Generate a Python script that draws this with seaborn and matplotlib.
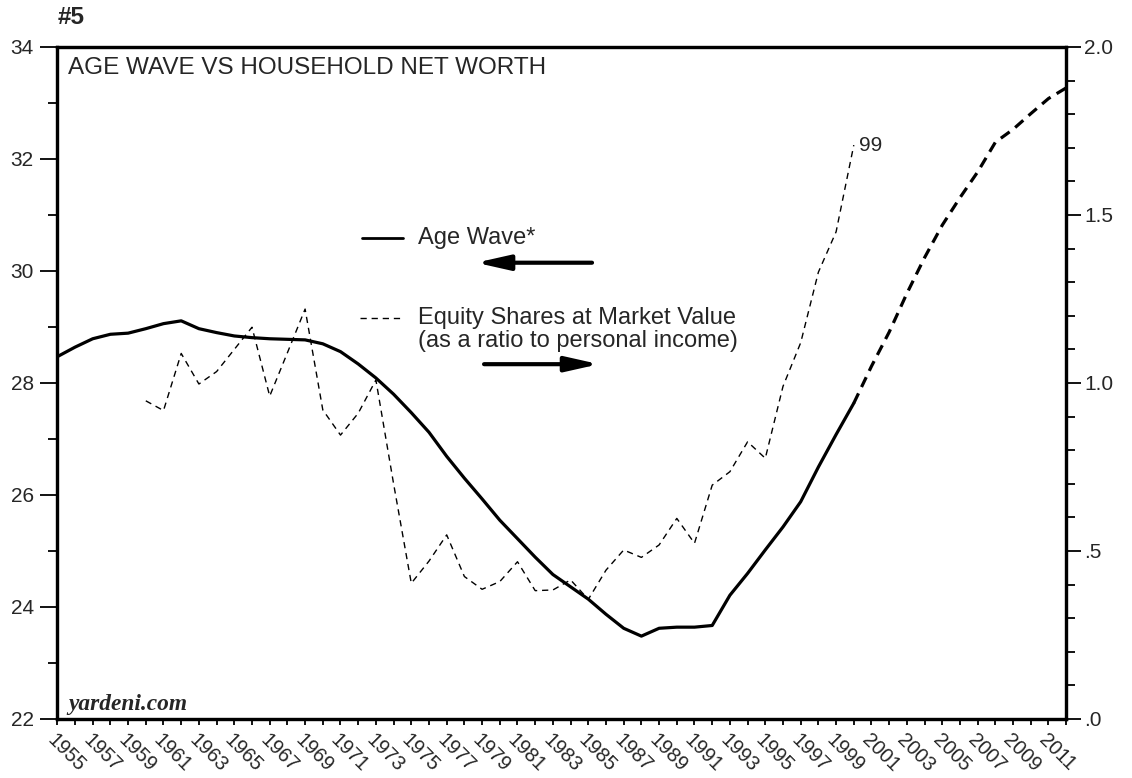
import numpy as np
import matplotlib
matplotlib.use("Agg")
import matplotlib.pyplot as plt
import seaborn as sns
from matplotlib.ticker import MultipleLocator, FixedLocator

# ---------------- data ----------------
age_years = list(range(1955, 2001))
age_wave = [28.47, 28.64, 28.79, 28.87, 28.89, 28.97, 29.06, 29.11, 28.97, 28.90,
            28.84, 28.81, 28.79, 28.78, 28.77, 28.70, 28.56, 28.34, 28.09, 27.80,
            27.47, 27.12, 26.69, 26.30, 25.93, 25.55, 25.22, 24.89, 24.58, 24.36,
            24.14, 23.87, 23.62, 23.48, 23.62, 23.64, 23.64, 23.67, 24.21, 24.60,
            25.02, 25.43, 25.88, 26.50, 27.08, 27.64]

proj_years = list(range(2000, 2013))
age_proj = [27.64, 28.30, 28.91, 29.60, 30.24, 30.82, 31.31, 31.77, 32.30,
            32.53, 32.81, 33.08, 33.27]

# year-end values, 1959..1999
equity_years = list(range(1959, 2000))
equity_ratio = [0.947, 0.918, 1.088, 0.997, 1.034, 1.100, 1.166, 0.961, 1.090, 1.220,
                0.920, 0.845, 0.910, 1.009, 0.700, 0.404, 0.470, 0.548, 0.424, 0.386,
                0.409, 0.468, 0.382, 0.384, 0.414, 0.356, 0.443, 0.503, 0.481, 0.518,
                0.597, 0.523, 0.696, 0.736, 0.825, 0.776, 0.990, 1.120, 1.330, 1.450,
                1.708]

left_ticks = [22, 24, 26, 28, 30, 32, 34]
right_ticks = [0.0, 0.5, 1.0, 1.5, 2.0]
right_labels = [".0", ".5", "1.0", "1.5", "2.0"]
x_label_years = list(range(1955, 2012, 2))

# ---------------- style ----------------
sns.set_theme(style="ticks")
plt.rcParams["font.family"] = ["Liberation Sans", "DejaVu Sans"]

W, H = 1132, 778
fig = plt.figure(figsize=(W / 100, H / 100), dpi=100)
L, R, T, B = 57.3, 1066.2, 47, 719
ax = fig.add_axes([L / W, 1 - B / H, (R - L) / W, (B - T) / H])
ax2 = ax.twinx()

sns.lineplot(x=age_years, y=age_wave, ax=ax, color="black", linewidth=2.3)
sns.lineplot(x=proj_years, y=age_proj, ax=ax, color="black", linewidth=2.3,
             linestyle=(0, (3.4, 2.2)))
sns.lineplot(x=np.array(equity_years) + 1, y=equity_ratio, ax=ax2, color="black",
             linewidth=1.0, linestyle=(0, (4.5, 3.5)))

ax.set_xlim(1955, 2012)
ax.set_ylim(22, 34)
ax2.set_ylim(0, 2.0)
for a in (ax, ax2):
    a.set_xlabel("")
    a.set_ylabel("")
    for s in a.spines.values():
        s.set_color("black")
        s.set_linewidth(2.3)
        s.set_visible(True)

# x axis
ax.xaxis.set_major_locator(FixedLocator(x_label_years))
ax.xaxis.set_minor_locator(MultipleLocator(1))
ax.set_xticklabels([str(y) for y in x_label_years], rotation=-45, ha="left",
                   va="top", rotation_mode="anchor", fontsize=14.5)
ax.tick_params(axis="x", which="both", direction="out", length=4.5, width=1.3,
               color="black", bottom=True, top=False, pad=4)

# left axis
ax.set_yticks(left_ticks)
ax.set_yticklabels([str(v) for v in left_ticks], fontsize=15)
ax.yaxis.set_minor_locator(MultipleLocator(1))
ax.tick_params(axis="y", which="major", direction="out", length=12, width=1.3,
               color="black", left=True, right=False, pad=5)
ax.tick_params(axis="y", which="minor", direction="out", length=6.5, width=1.3,
               color="black", left=True, right=False)

# right axis
ax2.set_yticks(right_ticks)
ax2.set_yticklabels(right_labels, fontsize=15)
ax2.yaxis.set_minor_locator(MultipleLocator(0.1))
ax2.tick_params(axis="y", which="major", direction="out", length=11, width=1.3,
                color="black", right=True, left=False, pad=2)
ax2.tick_params(axis="y", which="minor", direction="out", length=6.5, width=1.3,
                color="black", right=True, left=False)

# ---------------- text ----------------
fig.text(58 / W, 1 - 17 / H, "#5", fontsize=17.5, fontweight="bold",
         ha="left", va="center")
ax.text(0.0106, 0.969, "AGE WAVE VS HOUSEHOLD NET WORTH", transform=ax.transAxes,
        fontsize=17.5, ha="left", va="center")
ax.text(0.0106, 0.0134, "yardeni.com", transform=ax.transAxes, fontsize=16.8,
        family=["Liberation Serif", "DejaVu Serif"], fontweight="bold",
        fontstyle="italic", ha="left", va="baseline")

# legend keys
ax.plot([0.302, 0.343], [0.716, 0.716], transform=ax.transAxes, color="black", lw=2.0)
ax.text(0.3576, 0.716, "Age Wave*", transform=ax.transAxes, fontsize=17,
        ha="left", va="center")
ax.plot([0.300, 0.343], [0.597, 0.597], transform=ax.transAxes, color="black",
        lw=1.0, linestyle=(0, (4.5, 3.5)))
ax.text(0.3576, 0.597, "Equity Shares at Market Value", transform=ax.transAxes,
        fontsize=17, ha="left", va="center")
ax.text(0.3576, 0.562, "(as a ratio to personal income)", transform=ax.transAxes,
        fontsize=17, ha="left", va="center")

arrow_kw = dict(arrowstyle="-|>,head_length=2.0,head_width=0.45", lw=3.0,
                color="black", shrinkA=0, shrinkB=0, mutation_scale=10)
ax.annotate("", xy=(0.415, 0.679), xytext=(0.530, 0.679), xycoords="axes fraction",
            textcoords="axes fraction", arrowprops=arrow_kw)
ax.annotate("", xy=(0.537, 0.528), xytext=(0.423, 0.528), xycoords="axes fraction",
            textcoords="axes fraction", arrowprops=arrow_kw)

ax2.annotate("99", xy=(equity_years[-1] + 1, equity_ratio[-1]), xytext=(4, 0),
             textcoords="offset points", fontsize=15, ha="left", va="center")

fig.savefig("out.png", dpi=100, facecolor="white")
